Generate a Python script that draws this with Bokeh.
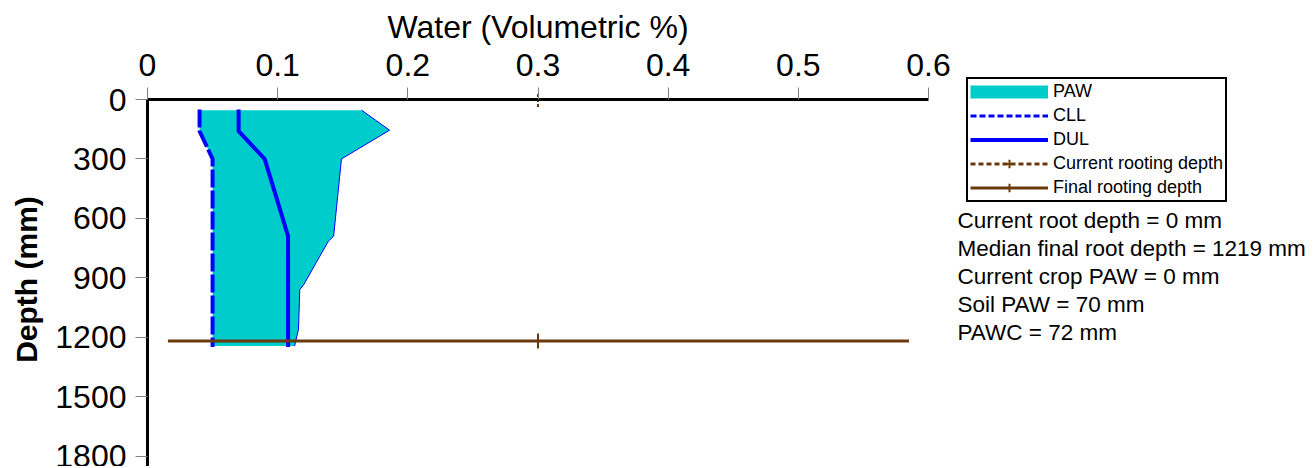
import math
from bokeh.plotting import figure
from bokeh.models import (Range1d, LinearAxis, FixedTicker, CustomJSTickFormatter,
                          Legend, LegendItem, Label)
from bokeh.embed import file_html
from bokeh.resources import INLINE

# ---- data ----
cll_depth = [50, 160, 300, 1250]
cll_value = [0.040, 0.040, 0.050, 0.050]

dul_depth = [50, 160, 300, 690, 1250]
dul_value = [0.070, 0.070, 0.090, 0.108, 0.108]

paw_right_depth = [54, 155, 300, 690, 715, 935, 960, 1160, 1245]
paw_right_value = [0.1645, 0.186, 0.149, 0.143, 0.139, 0.120, 0.117, 0.116, 0.113]

root_x = [0.0157, 0.585]
root_marker_x = 0.3
current_root_depth = 0
final_root_depth = 1219

x_ticks = [0, 0.1, 0.2, 0.3, 0.4, 0.5, 0.6]
y_ticks = [0, 300, 600, 900, 1200, 1500, 1800]

x_title = "Water (Volumetric %)"
y_title = "Depth (mm)"
legend_labels = ["PAW", "CLL", "DUL", "Current rooting depth", "Final rooting depth"]

stat_lines = [
    "Current root depth = 0 mm",
    "Median final root depth = 1219 mm",
    "Current crop PAW = 0 mm",
    "Soil PAW = 70 mm",
    "PAWC = 72 mm",
]

FONT = "Liberation Sans"
CYAN = "#00CCCC"
BLUE = "#0000FF"
BROWN = "#6B3A0C"

# ---- geometry (page pixels) ----
FIG_W, FIG_H = 1310, 466
PAGE_X0, PAGE_Y0 = 1, 2            # where the canvas lands on the page
X0_PX, PX_PER_X = 148, 781 / 0.6   # x = 0 at page 148, 0.6 at 929
Y0_PX, PX_PER_MM = 101, 356.5 / 1800

def xv(px):
    return (px - X0_PX) / PX_PER_X

def yv(py):
    return (py - Y0_PX) / PX_PER_MM

p = figure(width=FIG_W, height=FIG_H, output_backend="svg", toolbar_location=None,
           x_range=Range1d(xv(PAGE_X0), xv(PAGE_X0 + FIG_W)),
           y_range=Range1d(yv(PAGE_Y0 + FIG_H), yv(PAGE_Y0)),
           x_axis_location=None, y_axis_location=None,
           min_border_left=0, min_border_right=0, min_border_top=0, min_border_bottom=0)
p.outline_line_color = None
p.xgrid.visible = False
p.ygrid.visible = False

# axes at fixed positions
xa = LinearAxis(ticker=FixedTicker(ticks=x_ticks),
                formatter=CustomJSTickFormatter(code="return String(Math.round(tick*10)/10)"),
                fixed_location=0, bounds=(0, 0.6))
ya = LinearAxis(ticker=FixedTicker(ticks=y_ticks), fixed_location=0,
                bounds=(0, yv(PAGE_Y0 + FIG_H)))
for ax in (xa, ya):
    ax.axis_line_color = "black"
    ax.axis_line_width = 3
    ax.major_tick_line_color = "#808080"
    ax.major_tick_line_width = 1
    ax.major_tick_out = 12
    ax.major_tick_in = 0
    ax.minor_tick_line_color = None
    ax.major_label_text_font = FONT
    ax.major_label_text_font_size = "32px"
    ax.major_label_text_color = "black"
xa.major_label_standoff = 12
ya.major_label_standoff = 9
p.add_layout(xa, "above")
p.add_layout(ya, "left")

# axis titles
p.add_layout(Label(x=0.3, y=yv(28), text=x_title, text_font=FONT, text_font_size="32px",
                   text_align="center", text_baseline="middle", text_color="black"))
p.add_layout(Label(x=xv(27), y=yv(281), text=y_title, text_font=FONT, text_font_size="30px",
                   text_font_style="bold", angle=math.pi / 2,
                   text_align="center", text_baseline="middle", text_color="black"))

# PAW fill
paw_top = paw_right_depth[0]
paw_bottom = paw_right_depth[-1]
poly_x = [cll_value[0]] + paw_right_value + [cll_value[-1]] + cll_value[-2:0:-1]
poly_y = [paw_top] + paw_right_depth + [paw_bottom] + cll_depth[-2:0:-1]
p.patch(poly_x, poly_y, fill_color=CYAN, line_color=None)
p.line(paw_right_value, paw_right_depth, line_color=BLUE, line_width=1)

# CLL / DUL
p.line(cll_value, cll_depth, line_color=BLUE, line_width=4, line_dash="18 3")
dul_r = p.line(dul_value, dul_depth, line_color=BLUE, line_width=4)

# rooting depths
cur_l = p.line(root_x, [current_root_depth] * 2, line_color=BROWN, line_width=3, line_dash="6 3")
cur_m = p.scatter([root_marker_x], [current_root_depth], marker="cross", size=15,
                  line_color=BROWN, line_width=2, line_dash="3 2")
fin_l = p.line(root_x, [final_root_depth] * 2, line_color=BROWN, line_width=3)
fin_m = p.scatter([root_marker_x], [final_root_depth], marker="cross", size=15,
                  line_color=BROWN, line_width=2)

# legend-only renderers (far outside the visible range)
off = [-10, -9]
leg_paw = p.line(off, [0, 0], line_color=CYAN, line_width=13)
leg_cll = p.line(off, [0, 0], line_color=BLUE, line_width=3, line_dash="6 3")
leg_cur_l = p.line(off, [0, 0], line_color=BROWN, line_width=3, line_dash="5 3")
leg_cur_m = p.scatter([-10], [0], marker="cross", size=15, line_color=BROWN, line_width=2)

leg_renderers = [[leg_paw], [leg_cll], [dul_r], [leg_cur_l, leg_cur_m], [fin_l, fin_m]]
legend = Legend(items=[LegendItem(label=lab, renderers=r) for lab, r in zip(legend_labels, leg_renderers)],
                location=(967 - PAGE_X0, PAGE_Y0 + FIG_H - 204), margin=0, padding=2, spacing=3,
                glyph_width=78, glyph_height=21, label_height=21, label_standoff=5,
                label_text_font=FONT, label_text_font_size="18px", label_text_color="black",
                border_line_color="black", border_line_width=2, border_line_alpha=1,
                background_fill_color="white", background_fill_alpha=1)
p.add_layout(legend, "center")

# statistics text
for i, s in enumerate(stat_lines):
    p.add_layout(Label(x=xv(958), y=yv(222 + 28 * i), text=s, text_font=FONT,
                       text_font_size="22.5px", text_baseline="middle", text_align="left",
                       text_color="black"))

open("out.html", "w").write(file_html(p, INLINE))
